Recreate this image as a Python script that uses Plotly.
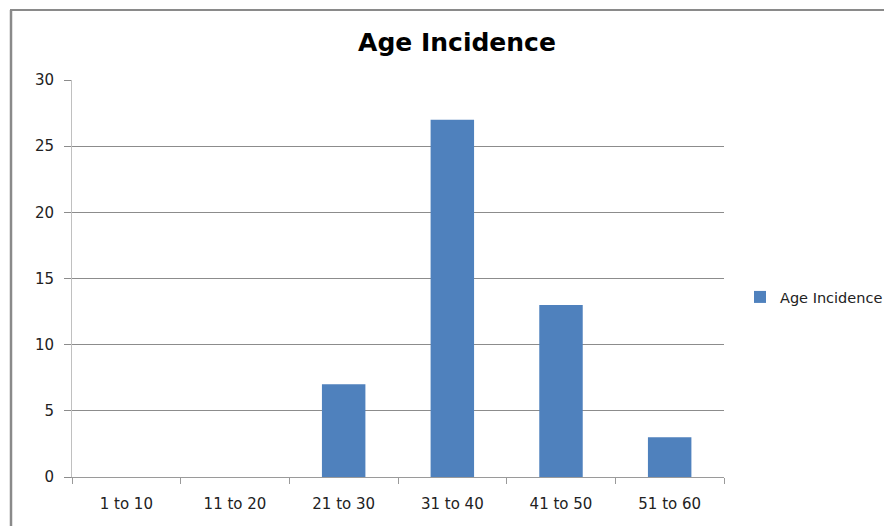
import plotly.graph_objects as go

categories = ["1 to 10", "11 to 20", "21 to 30", "31 to 40", "41 to 50", "51 to 60"]
values = [0, 0, 7, 27, 13, 3]
y_ticks = [0, 5, 10, 15, 20, 25, 30]
series_name = "Age Incidence"
title_text = "Age Incidence"

OFF = 8  # page body margin
W, H = 892 - OFF, 526 - OFF
L, T = 72 - OFF, 80 - OFF
R = W - (724 - OFF)
B = H - (477 - OFF)
pw, ph = W - L - R, H - T - B

def px_x(x):
    return (x - OFF - L) / pw

def px_y(y):
    return (H - B - (y - OFF)) / ph

FONT = "'DejaVu Sans', Verdana, sans-serif"

fig = go.Figure()
fig.add_trace(go.Bar(x=categories, y=values, name=series_name,
                     marker=dict(color="#4F81BD", line=dict(width=0))))

fig.update_layout(
    width=W, height=H,
    margin=dict(l=L, r=R, t=T, b=B, autoexpand=False),
    paper_bgcolor="white", plot_bgcolor="white",
    bargap=0.6,
    font=dict(family=FONT, size=15, color="#222"),
    title=dict(text="<b>" + title_text + "</b>", x=(457 - OFF) / W, xanchor="center",
               y=1 - (42 - OFF) / H, yanchor="middle", xref="container", yref="container",
               font=dict(family=FONT, size=25, color="#000")),
    showlegend=True,
    legend=dict(x=px_x(740), xanchor="left", y=px_y(297), yanchor="middle",
                font=dict(family=FONT, size=14.5, color="#222"), itemwidth=30),
    xaxis=dict(type="category", showgrid=False, showline=True, linecolor="#9a9a9a",
               linewidth=1, ticks="outside", tickson="boundaries", ticklen=6,
               tickcolor="#9a9a9a", ticklabelstandoff=13, tickfont=dict(size=15, color="#222")),
    yaxis=dict(range=[0, 30], tickvals=y_ticks, showgrid=True, gridcolor="#8c8c8c",
               gridwidth=1, showline=True, linecolor="#c0c0c0", linewidth=1,
               ticks="outside", ticklen=7, tickcolor="#8c8c8c", ticklabelstandoff=7,
               zeroline=False, tickfont=dict(size=15, color="#222")),
)

# chart frame (left and top edges visible)
fig.add_shape(type="line", xref="paper", yref="paper",
              x0=px_x(11), x1=px_x(11), y0=px_y(10), y1=px_y(540),
              line=dict(color="#8a8a8a", width=2.5))
fig.add_shape(type="line", xref="paper", yref="paper",
              x0=px_x(10), x1=px_x(900), y0=px_y(10), y1=px_y(10),
              line=dict(color="#8a8a8a", width=2))

fig.write_html("out.html")
